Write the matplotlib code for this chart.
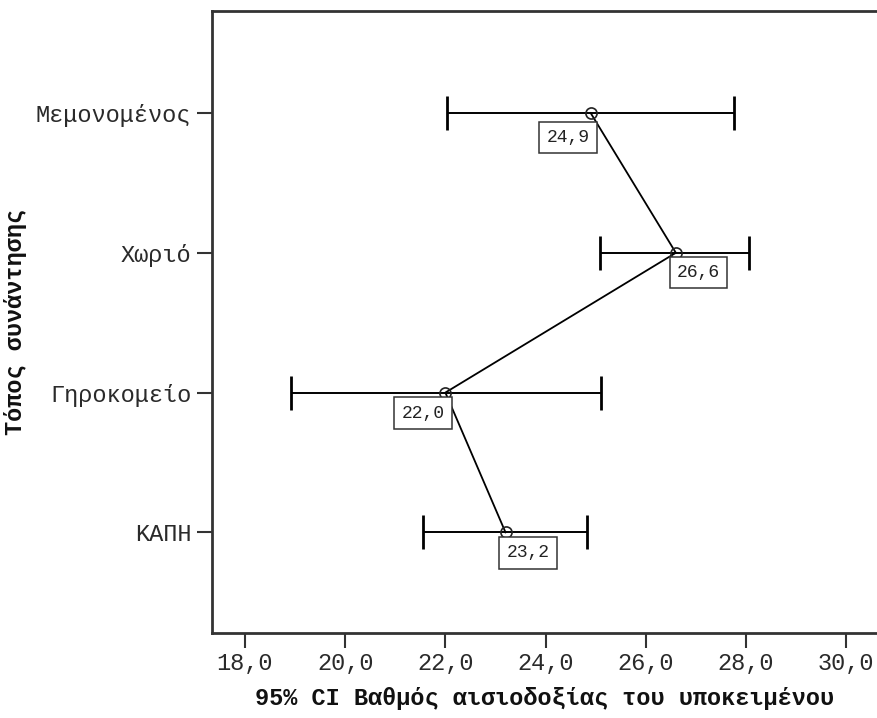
import numpy as np
import matplotlib.pyplot as plt

# categories, top to bottom
places = ['Μεμονομένος', 'Χωριό', 'Γηροκομείο', 'ΚΑΠΗ']
means = [24.9, 26.6, 22.0, 23.2]
ci_low = [22.04, 25.09, 18.91, 21.56]
ci_high = [27.76, 28.06, 25.10, 24.83]
mean_labels = ['24,9', '26,6', '22,0', '23,2']
xticks = [18, 20, 22, 24, 26, 28, 30]

mono = 'Liberation Mono'
dark = '#333333'

fig = plt.figure(figsize=(8.77, 7.18), dpi=100)
ax = fig.add_axes([0.2417, 0.1184, 0.7583, 0.8663])

ys = np.arange(len(places))
means_arr = np.array(means)
err = np.vstack([means_arr - np.array(ci_low), np.array(ci_high) - means_arr])

# error bars (95% CI)
ax.errorbar(means, ys, xerr=err, fmt='none', ecolor='black', elinewidth=1.4,
            capsize=12.5, capthick=2.0, zorder=2)
# line joining the means
ax.plot(means, ys, color='black', lw=1.3, zorder=3)
ax.plot(means, ys, 'o', ms=8, mfc='none', mec='#222222', mew=1.2, zorder=4)

# mean value boxes, alternating side
offsets = [(-1, -16, 'right'), (1, -11, 'left'), (-1, -12, 'right'), (1, -12, 'left')]
for m, y, lab, (dx, dy, ha) in zip(means, ys, mean_labels, offsets):
    ax.annotate(lab, (m, y), xytext=(dx, dy), textcoords='offset pixels',
                ha=ha, va='top', family=mono, fontsize=13, color='#222222',
                bbox=dict(boxstyle='square,pad=0.4', fc='white',
                          ec=dark, lw=1.1), zorder=5)

ax.set_xlim(17.341, 30.615)
ax.set_ylim(3.72, -0.73)
ax.set_yticks(ys)
ax.set_yticklabels(places)
ax.set_xticks(xticks)
ax.set_xticklabels(['{:.1f}'.format(t).replace('.', ',') for t in xticks])

for lbl in ax.get_xticklabels() + ax.get_yticklabels():
    lbl.set_family(mono)
    lbl.set_fontsize(17)
    lbl.set_color('#2a2a2a')

ax.tick_params(axis='both', direction='out', length=11, width=1.5,
               color=dark, pad=4)
ax.tick_params(axis='x', pad=3)

ax.spines['right'].set_visible(False)
for s in ['left', 'bottom', 'top']:
    ax.spines[s].set_linewidth(2.0)
    ax.spines[s].set_color(dark)

ax.set_xlabel('95% CI Βαθμός αισιοδοξίας του υποκειμένου', family=mono,
              fontweight='bold', fontsize=17, color='#111111', labelpad=8)
fig.text(16 / 877, 0.552, 'Τόπος συνάντησης', rotation=90, ha='center',
         va='center', family=mono, fontweight='bold', fontsize=17,
         color='#111111')

fig.savefig('out.png', dpi=100)
